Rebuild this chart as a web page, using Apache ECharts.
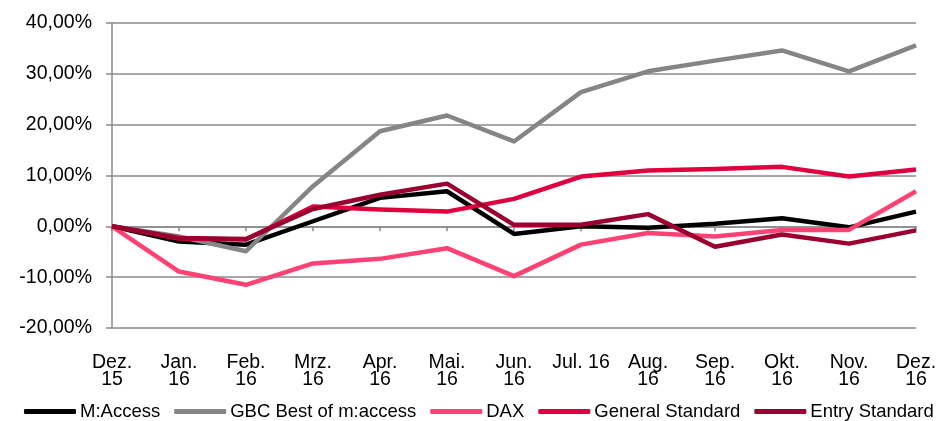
<!DOCTYPE html>
<html>
<head>
<meta charset="utf-8">
<script src="https://cdn.jsdelivr.net/npm/echarts@6/dist/echarts.min.js"></script>
<style>
  html, body { margin: 0; padding: 0; background: #fff; }
  #chart { width: 949px; height: 421px; }
</style>
</head>
<body>
<div id="chart"></div>
<script>
  // monthly performance since Dez. 15, in percent
  const months = ['Dez.\n15', 'Jan.\n16', 'Feb.\n16', 'Mrz.\n16', 'Apr.\n16', 'Mai.\n16', 'Jun.\n16',
    'Jul. 16', 'Aug.\n16', 'Sep.\n16', 'Okt.\n16', 'Nov.\n16', 'Dez.\n16'];

  const mAccess = [0, -3.0, -3.6, 1.0, 5.6, 6.9, -1.5, 0, -0.3, 0.5, 1.6, -0.2, 2.9];
  const gbcBest = [0, -2.0, -4.9, 7.9, 18.7, 21.8, 16.7, 26.4, 30.5, 32.6, 34.6, 30.5, 35.6];
  const dax = [0, -8.9, -11.5, -7.3, -6.4, -4.3, -9.8, -3.6, -1.3, -2.0, -0.7, -0.7, 6.9];
  const generalStandard = [0, -2.4, -2.6, 3.9, 3.3, 2.9, 5.4, 9.8, 11.0, 11.3, 11.7, 9.8, 11.2];
  const entryStandard = [0, -2.3, -2.5, 3.4, 6.2, 8.4, 0.3, 0.3, 2.4, -4.0, -1.6, -3.4, -0.8];

  const seriesDefs = [
    { name: 'M:Access', data: mAccess, color: '#000000' },
    { name: 'GBC Best of m:access', data: gbcBest, color: '#858585' },
    { name: 'DAX', data: dax, color: '#ff4273' },
    { name: 'General Standard', data: generalStandard, color: '#de003f' },
    { name: 'Entry Standard', data: entryStandard, color: '#9a0030' }
  ];

  const font = 'Liberation Sans, Arial, sans-serif';
  const gridColor = '#8a8a8a';

  const chart = echarts.init(document.getElementById('chart'), null, { renderer: 'canvas' });

  chart.setOption({
    animation: false,
    backgroundColor: '#fff',
    grid: { left: 112, right: 33, top: 23, bottom: 93 },
    legend: {
      left: 19,
      top: 397,
      width: 930,
      itemWidth: 52,
      itemHeight: 5,
      itemGap: 14,
      icon: 'roundRect',
      textStyle: { color: '#000', fontSize: 18.5, fontFamily: font, padding: [0, 0, 0, -1] },
      data: seriesDefs.map((s) => s.name)
    },
    xAxis: [
      {
        type: 'category',
        data: months,
        boundaryGap: false,
        axisLine: { show: false, onZero: false },
        axisTick: { show: false },
        splitLine: { show: false },
        axisLabel: {
          interval: 0,
          margin: 26,
          color: '#000',
          fontSize: 19.5,
          lineHeight: 17,
          fontFamily: font,
          verticalAlign: 'top'
        }
      },
      {
        // zero line with tick marks
        type: 'category',
        data: months,
        boundaryGap: false,
        position: 'bottom',
        axisLine: { show: true, onZero: true, lineStyle: { color: gridColor, width: 1.5 } },
        axisTick: { show: true, length: 5, interval: 0, lineStyle: { color: gridColor, width: 1.5 } },
        axisLabel: { show: false },
        splitLine: { show: false }
      }
    ],
    yAxis: {
      type: 'value',
      min: -20,
      max: 40,
      interval: 10,
      axisLine: { show: true, lineStyle: { color: gridColor, width: 1.5 } },
      axisTick: { show: true, length: 6, lineStyle: { color: gridColor, width: 1.5 } },
      splitLine: { lineStyle: { color: gridColor, width: 1.5 } },
      axisLabel: {
        margin: 20,
        color: '#000',
        fontSize: 19.5,
        fontFamily: font,
        formatter: (v) => v.toFixed(2).replace('.', ',') + '%'
      }
    },
    series: seriesDefs.map((s) => ({
      name: s.name,
      type: 'line',
      data: s.data,
      xAxisIndex: 0,
      showSymbol: false,
      symbol: 'none',
      color: s.color,
      lineStyle: { width: 4.5, color: s.color, join: 'round' },
      emphasis: { disabled: true }
    }))
  });
</script>
</body>
</html>
